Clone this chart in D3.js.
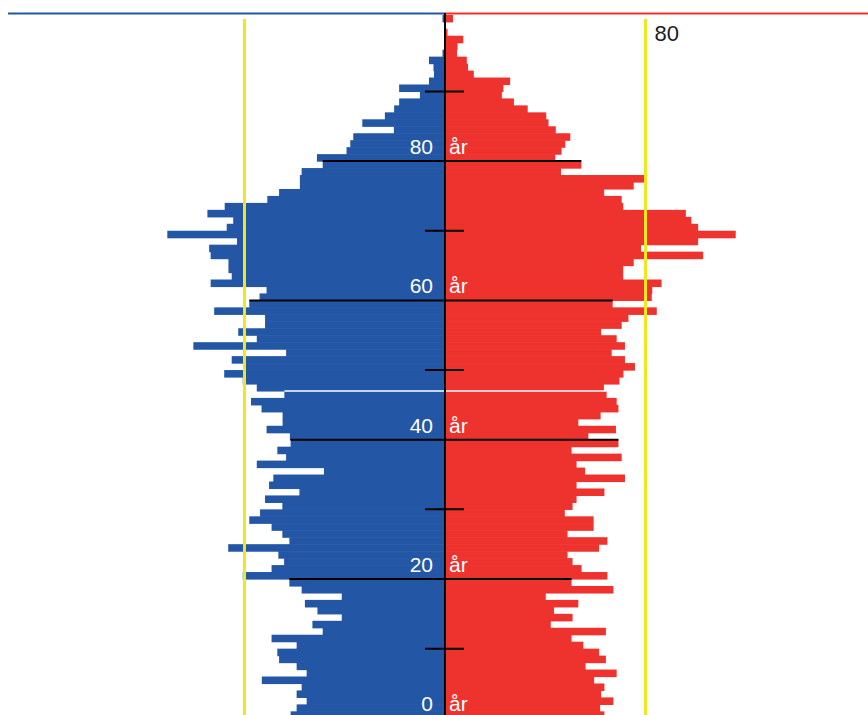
<!DOCTYPE html>
<html>
<head>
<meta charset="utf-8">
<script src="https://cdn.jsdelivr.net/npm/d3@7"></script>
<style>
  body { margin: 0; background: #fff; }
  svg { display: block; }
</style>
</head>
<body>
<svg id="pyramid" width="868" height="715"></svg>
<script>
// Ages 0..100, one bar per year
const ages = d3.range(0, 101);

// Men (left, blue) per age 0..100
const men = [
  61.6, 59.2, 55.2, 59.2, 57.2, 73.1, 55.2, 59.2, 66.2, 66.9,
  59.2, 69.2, 48.8, 52.9, 41.2, 50.9, 55.9, 41.2, 57.2, 62.1,
  80.7, 69.2, 64.2, 66.5, 86.5, 62.1, 64.9, 69.2, 78.1, 73.8,
  64.9, 71.8, 58.1, 70.2, 68.5, 48.3, 75.1, 63.4, 66.9, 61.6,
  61.9, 71.2, 64.8, 64.8, 73.2, 77.4, 64.1, 75.1, 80.7, 88.1,
  80.5, 85.1, 63.4, 100.4, 75.1, 82.5, 71.8, 71.8, 92.1, 78.1,
  74.0, 71.2, 93.5, 85.1, 86.4, 86.4, 93.5, 94.1, 83.0, 110.8,
  87.1, 84.5, 94.8, 87.9, 70.9, 66.2, 57.9, 57.9, 57.2, 48.8,
  51.1, 39.3, 37.8, 36.6, 20.4, 33.0, 24.0, 20.3, 18.3, 10.0,
  18.3, 6.4, 4.4, 4.6, 6.4, 1.0, 0, 0, 0, 0,
  1.0
];

// Women (right, red) per age 0..100
const women = [
  63.6, 61.9, 67.2, 62.3, 63.6, 59.5, 68.5, 56.1, 64.2, 61.5,
  55.2, 50.5, 64.2, 42.2, 50.9, 43.5, 53.2, 40.2, 67.2, 50.5,
  64.8, 54.5, 50.9, 48.9, 61.5, 64.8, 48.9, 59.3, 59.3, 47.8,
  50.9, 52.5, 63.6, 52.5, 71.8, 55.9, 52.5, 70.5, 50.5, 69.2,
  57.2, 68.2, 53.2, 62.1, 69.2, 68.5, 64.5, 63.4, 69.6, 71.2,
  75.8, 71.8, 66.5, 71.8, 68.5, 62.3, 70.5, 73.2, 84.5, 66.9,
  82.5, 82.7, 86.4, 71.1, 71.1, 75.3, 103.0, 78.2, 101.0, 116.0,
  101.0, 98.3, 96.1, 71.1, 70.5, 63.5, 75.3, 79.5, 46.3, 54.4,
  44.0, 46.5, 48.0, 50.0, 44.2, 41.3, 40.4, 33.0, 27.5, 22.7,
  23.3, 26.0, 11.5, 9.2, 8.7, 4.8, 5.0, 7.3, 1.0, 0,
  3.2
];

// Axis marks
const label_ages = [0, 20, 40, 60, 80];
const long_lines = [20, 40, 60, 80];
const short_ticks = [10, 30, 50, 70, 90];
const white_line = [47];
const ref_value = 80;

const svg = d3.select("#pyramid");

const cx = 445;
const y = d3.scaleBand()
    .domain(ages)
    .range([718.3, 718.3 - 101 * 6.965])
    .padding(0);

const xMen = d3.scaleLinear().domain([0, 80]).range([cx, cx - 200.5]);
const xWomen = d3.scaleLinear().domain([0, 80]).range([cx, cx + 200.5]);

// y of the line under age a (= top edge of age a-1)
const lineY = a => y(a) + y.bandwidth();

const blue = "#2357a5";
const red = "#ee322d";

// top header line
svg.append("line")
    .attr("x1", 8).attr("x2", cx).attr("y1", 13.5).attr("y2", 13.5)
    .attr("stroke", blue).attr("stroke-width", 2);
svg.append("line")
    .attr("x1", cx).attr("x2", 868).attr("y1", 13.5).attr("y2", 13.5)
    .attr("stroke", red).attr("stroke-width", 2);

// men bars (slightly taller so neighbours overlap, no seams)
svg.append("g").selectAll("rect")
    .data(ages)
    .join("rect")
    .attr("x", d => xMen(men[d]))
    .attr("y", d => y(d))
    .attr("width", d => cx - xMen(men[d]))
    .attr("height", y.bandwidth() + 0.6)
    .attr("fill", blue);

// women bars
svg.append("g").selectAll("rect")
    .data(ages)
    .join("rect")
    .attr("x", cx)
    .attr("y", d => y(d))
    .attr("width", d => xWomen(women[d]) - cx)
    .attr("height", y.bandwidth() + 0.6)
    .attr("fill", red);

// yellow reference lines at 80
svg.append("g").selectAll("line")
    .data([xMen(ref_value), xWomen(ref_value)])
    .join("line")
    .attr("x1", d => d).attr("x2", d => d)
    .attr("y1", 19).attr("y2", 715)
    .attr("stroke", "#efe81e")
    .attr("stroke-width", 3);

svg.append("text")
    .attr("x", xWomen(ref_value) + 9)
    .attr("y", 41)
    .attr("font-family", "Liberation Sans, Arial, sans-serif")
    .attr("font-size", 22)
    .attr("fill", "#1c1c24")
    .text(ref_value);

// white line
svg.append("g").selectAll("line")
    .data(white_line)
    .join("line")
    .attr("x1", d => xMen(men[d - 1]))
    .attr("x2", d => xWomen(women[d - 1]))
    .attr("y1", d => lineY(d)).attr("y2", d => lineY(d))
    .attr("stroke", "#fff")
    .attr("stroke-width", 1.5);

// long black lines every 20 years, spanning the bar below
svg.append("g").selectAll("line")
    .data(long_lines)
    .join("line")
    .attr("x1", d => xMen(men[d - 1]))
    .attr("x2", d => xWomen(women[d - 1]))
    .attr("y1", d => lineY(d)).attr("y2", d => lineY(d))
    .attr("stroke", "#000")
    .attr("stroke-width", 2);

// short ticks
svg.append("g").selectAll("line")
    .data(short_ticks)
    .join("line")
    .attr("x1", cx - 20).attr("x2", cx + 19)
    .attr("y1", d => lineY(d)).attr("y2", d => lineY(d))
    .attr("stroke", "#000")
    .attr("stroke-width", 2);

// center axis
svg.append("line")
    .attr("x1", cx).attr("x2", cx)
    .attr("y1", 13).attr("y2", 715)
    .attr("stroke", "#000")
    .attr("stroke-width", 2);

// age labels
const labels = svg.append("g")
    .attr("font-family", "Liberation Sans, Arial, sans-serif")
    .attr("font-size", 21)
    .attr("fill", "#fff");

labels.selectAll("text.num")
    .data(label_ages)
    .join("text")
    .attr("class", "num")
    .attr("x", cx - 12)
    .attr("y", d => lineY(d) - 7)
    .attr("text-anchor", "end")
    .text(d => d);

labels.selectAll("text.unit")
    .data(label_ages)
    .join("text")
    .attr("class", "unit")
    .attr("x", cx + 4)
    .attr("y", d => lineY(d) - 7)
    .text("år");
</script>
</body>
</html>
